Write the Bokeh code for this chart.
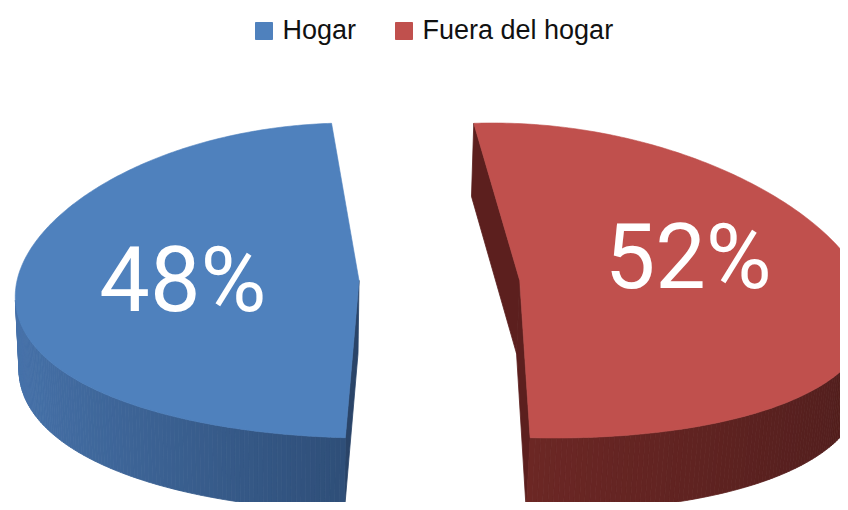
import numpy as np
from bokeh.plotting import figure
from bokeh.models import Range1d
from bokeh.embed import file_html
from bokeh.resources import INLINE
from bokeh.core.properties import value

# ---------------- data ----------------
categories = ["Hogar", "Fuera del hogar"]
percentages = [48, 52]
top_colors = ["#4F81BD", "#C0504D"]
label_texts = [f"{v}%" for v in percentages]

# ---------------- style ----------------
side_left_colors = ["#4672AA", "#86302C"]    # side colour where normal points left
side_right_colors = ["#142640", "#4E1D1C"]   # side colour where normal points right
wall_colors = ["#2A4468", "#5C1F1E"]
label_dz = [0.0, -0.145]
label_radius = 0.515

# ---------------- 3D camera ----------------
PHI = np.radians(26.9)
DIST = 6.84
FOC = 2339.0
CAM_X = -0.45
PX0, PY0 = 285.0, 280.0
SCALE_Z = 157.5        # vertical pixels per unit of depth (ellipse minor semi-axis)
SCALE_Y = 348.0        # vertical pixels per unit of height
EXPLODE = 0.235
THICK = 0.21
cam = np.array([CAM_X, DIST * np.sin(PHI), DIST * np.cos(PHI)])


def project(X, Y, Z):
    X = np.asarray(X, float); Y = np.asarray(Y, float); Z = np.asarray(Z, float)
    depth = DIST - Y * np.sin(PHI) - Z * np.cos(PHI)
    sx = PX0 + FOC * (X - CAM_X) / depth
    sy = PY0 + SCALE_Z * Z - SCALE_Y * Y
    return sx, sy


def mix(c1, c2, t):
    a = np.array([int(c1[i:i + 2], 16) for i in (1, 3, 5)], float)
    b = np.array([int(c2[i:i + 2], 16) for i in (1, 3, 5)], float)
    c = np.clip(a * (1 - t) + b * t, 0, 255).round().astype(int)
    return "#%02x%02x%02x" % tuple(c)


p = figure(width=840, height=502, output_backend="svg", toolbar_location=None,
           x_range=Range1d(0, 840), y_range=Range1d(502, 0),
           x_axis_type=None, y_axis_type=None, min_border=0)
p.outline_line_color = None
p.grid.visible = False
p.background_fill_color = "white"
p.border_fill_color = "white"

total = float(sum(percentages))
spans = [360.0 * v / total for v in percentages]
start = 180.0 - spans[0] / 2.0

label_x, label_y = [], []
angle = start
for i, span in enumerate(spans):
    a0, a1 = angle, angle + span
    angle = a1
    mid = np.radians((a0 + a1) / 2)
    cx, cz = EXPLODE * np.cos(mid), -EXPLODE * np.sin(mid)
    th = np.radians(np.linspace(a0, a1, 241))
    rx, rz = cx + np.cos(th), cz - np.sin(th)

    # walls (cut faces)
    wxs, wys = [], []
    for ang, sgn in ((np.radians(a0), -1), (np.radians(a1), 1)):
        nrm = np.array([np.cos(ang + sgn * np.pi / 2), 0, -np.sin(ang + sgn * np.pi / 2)])
        ex, ez = cx + np.cos(ang), cz - np.sin(ang)
        P = np.array([(cx + ex) / 2, -THICK / 2, (cz + ez) / 2])
        if nrm @ (cam - P) > 0:
            X = [cx, ex, ex, cx]; Y = [0, 0, -THICK, -THICK]; Z = [cz, ez, ez, cz]
            sx, sy = project(X, Y, Z)
            wxs.append(list(sx)); wys.append(list(sy))
    if wxs:
        p.patches(wxs, wys, fill_color=wall_colors[i], line_color=wall_colors[i], line_width=0.8)

    # outer side strips
    sxs, sys_, cols = [], [], []
    for k in range(len(th) - 1):
        tm = (th[k] + th[k + 1]) / 2
        nrm = np.array([np.cos(tm), 0, -np.sin(tm)])
        P = np.array([cx + np.cos(tm), -THICK / 2, cz - np.sin(tm)])
        if nrm @ (cam - P) <= 0:
            continue
        X = [rx[k], rx[k + 1], rx[k + 1], rx[k]]
        Z = [rz[k], rz[k + 1], rz[k + 1], rz[k]]
        Y = [0, 0, -THICK, -THICK]
        sx, sy = project(X, Y, Z)
        sxs.append(list(sx)); sys_.append(list(sy))
        cols.append(mix(side_left_colors[i], side_right_colors[i], (np.cos(tm) + 1) / 2))
    if sxs:
        p.patches(sxs, sys_, fill_color=cols, line_color=cols, line_width=0.8)

    # top face
    X = np.concatenate([[cx], rx]); Z = np.concatenate([[cz], rz])
    sx, sy = project(X, np.zeros_like(X), Z)
    p.patch(list(sx), list(sy), fill_color=top_colors[i], line_color=top_colors[i], line_width=0.6)

    lx, ly = project(cx + label_radius * np.cos(mid), 0.0,
                     cz - label_radius * np.sin(mid) + label_dz[i])
    label_x.append(float(lx)); label_y.append(float(ly))

# percentage labels
p.text(label_x, label_y, text=label_texts, text_color="white",
       text_font=value("Roboto"), text_font_size="90px",
       text_align="center", text_baseline="middle")

# legend
leg_sq_x = [263.5, 403.5]
leg_txt_x = [282, 422]
p.scatter(leg_sq_x, [30.5, 30.5], marker="square", size=17,
          fill_color=top_colors, line_color=top_colors)
p.text(leg_txt_x, [29, 29], text=categories, text_color="#111111",
       text_font=value("Liberation Sans"), text_font_size="27px",
       text_align="left", text_baseline="middle")

open("out.html", "w").write(file_html(p, INLINE))
